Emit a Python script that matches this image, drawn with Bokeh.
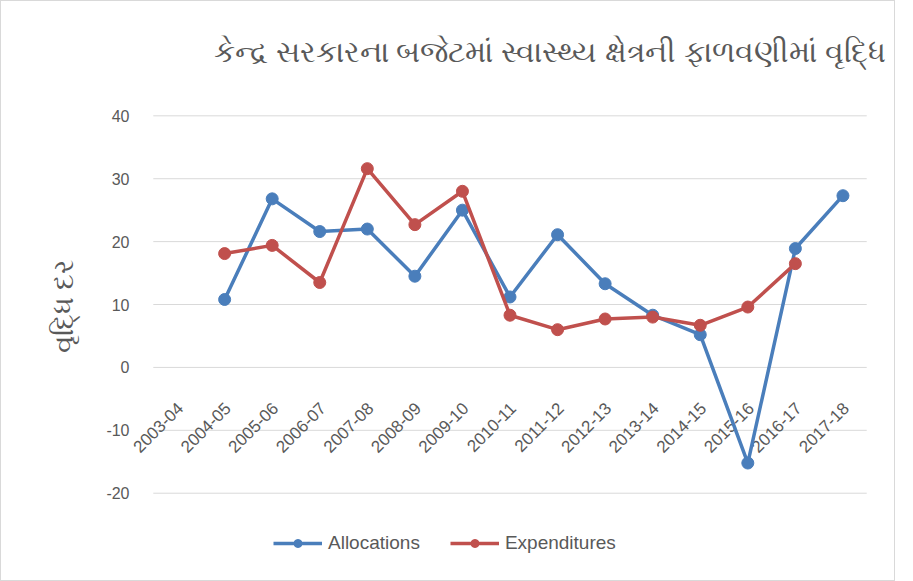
import math
from bokeh.plotting import figure
from bokeh.models import (ColumnDataSource, FactorRange, Range1d, FixedTicker,
                          Legend, LegendItem, Label)
from bokeh.core.properties import value
from bokeh.embed import file_html
from bokeh.resources import INLINE

title_text = "કેન્દ્ર સરકારના બજેટમાં સ્વાસ્થ્ય ક્ષેત્રની ફાળવણીમાં વૃદ્ધિ"
y_label = "વૃદ્ધિ દર"

years = ["2003-04", "2004-05", "2005-06", "2006-07", "2007-08", "2008-09", "2009-10",
         "2010-11", "2011-12", "2012-13", "2013-14", "2014-15", "2015-16", "2016-17", "2017-18"]
y_ticks = [-20, -10, 0, 10, 20, 30, 40]

alloc_years = years[1:]
allocations = [10.8, 26.8, 21.6, 22.0, 14.5, 25.0, 11.2, 21.1, 13.3, 8.3, 5.2, -15.2, 18.9, 27.3]

exp_years = years[1:14]
expenditures = [18.1, 19.4, 13.5, 31.6, 22.7, 28.0, 8.3, 6.0, 7.7, 8.0, 6.7, 9.6, 16.5]

BLUE = "#4a7ebb"
RED = "#c0504d"
GREY = "#595959"

p = figure(width=895, height=581, output_backend="svg", toolbar_location=None,
           x_range=FactorRange(*years, range_padding=0.5, range_padding_units="absolute"),
           y_range=Range1d(-33.4, 52.77),
           min_border_left=128, min_border_right=6, min_border_top=34, min_border_bottom=5)
p.styles = {"border": "1px solid #d9d9d9", "box-sizing": "border-box"}
p.outline_line_color = None
p.xaxis.visible = False
p.xgrid.grid_line_color = None
p.ygrid.grid_line_color = None

yax = p.yaxis[0]
yax.ticker = FixedTicker(ticks=y_ticks)
yax.major_label_overrides = {t: str(t) for t in y_ticks}
yax.axis_line_color = None
yax.major_tick_line_color = None
yax.minor_tick_line_color = None
yax.major_tick_out = 0
yax.major_tick_in = 0
yax.major_label_standoff = 0
yax.major_label_text_font = "Liberation Sans"
yax.major_label_text_font_size = "16px"
yax.major_label_text_color = GREY
yax.axis_label = y_label
yax.axis_label_text_font = "Noto Sans"
yax.axis_label_text_font_size = "28px"
yax.axis_label_text_font_style = "normal"
yax.axis_label_text_color = GREY
yax.axis_label_standoff = 22

# horizontal gridlines spanning the category band
grid_src = ColumnDataSource(dict(x0=[(years[0], -0.5)] * len(y_ticks),
                                 x1=[(years[-1], 0.5)] * len(y_ticks),
                                 y=y_ticks))
p.segment(x0="x0", y0="y", x1="x1", y1="y", source=grid_src,
          line_color="#d9d9d9", line_width=1)

# category labels along the zero line
lab_src = ColumnDataSource(dict(x=years, y=[0] * len(years), t=years))
p.text(x="x", y="y", text="t", source=lab_src, angle=math.pi / 4,
       text_align="right", text_baseline="middle", x_offset=3, y_offset=38,
       text_font=value("Liberation Sans"), text_font_size="17px", text_color=GREY)

a_src = ColumnDataSource(dict(x=alloc_years, y=allocations))
e_src = ColumnDataSource(dict(x=exp_years, y=expenditures))

al = p.line("x", "y", source=a_src, line_color=BLUE, line_width=3.5)
asc = p.scatter("x", "y", source=a_src, size=12, fill_color=BLUE, line_color=BLUE)
el = p.line("x", "y", source=e_src, line_color=RED, line_width=3.5)
esc = p.scatter("x", "y", source=e_src, size=12, fill_color=RED, line_color=RED)

legend = Legend(items=[LegendItem(label="Allocations", renderers=[al, asc]),
                       LegendItem(label="Expenditures", renderers=[el, esc])],
                orientation="horizontal", location=(144, 23),
                glyph_width=49, glyph_height=20, label_height=20, label_standoff=6,
                spacing=30, padding=5, margin=0, border_line_color=None,
                background_fill_alpha=0,
                label_text_font="Liberation Sans", label_text_font_size="19px",
                label_text_color=GREY)
p.add_layout(legend)

p.add_layout(Label(x=756, y=527, x_units="screen", y_units="screen", text=title_text,
                   text_align="right", text_baseline="middle",
                   text_font="Noto Sans", text_font_size="30px", text_color=GREY))

open("out.html", "w").write(file_html(p, INLINE))
